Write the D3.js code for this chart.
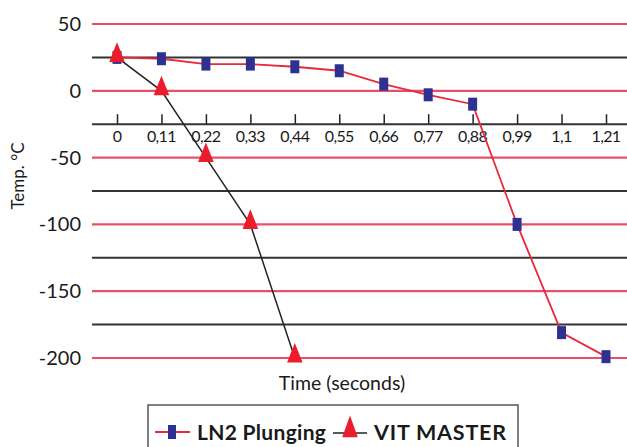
<!DOCTYPE html>
<html>
<head>
<meta charset="utf-8">
<script src="https://d3js.org/d3.v7.min.js"></script>
<style>
  body { margin: 0; background: #fff; }
  text { font-family: Lato, "Open Sans", sans-serif; fill: #1a1a1a; }
</style>
</head>
<body>
<script>
// chart data
const times = [0, 0.11, 0.22, 0.33, 0.44, 0.55, 0.66, 0.77, 0.88, 0.99, 1.1, 1.21];
const timeLabels = ["0", "0,11", "0,22", "0,33", "0,44", "0,55", "0,66", "0,77", "0,88", "0,99", "1,1", "1,21"];
const ln2Plunging = [25, 24, 20, 20, 18, 15, 5, -3, -10, -100, -181, -199];
const vitMaster = [25, 0, -50, -100, -200];
const redGrid = [50, 0, -50, -100, -150, -200];
const blackGrid = [25, -75, -125, -175];
const axisAt = -25;

const W = 627, H = 447;
const svg = d3.select('body').append('svg')
    .attr('width', W)
    .attr('height', H);

const x = d3.scaleLinear().domain([0, 1.21]).range([117, 606]);
const y = d3.scaleLinear().domain([-200, 50]).range([358, 24]);

const left = 92, right = W;

// grid lines
svg.selectAll('.gblack').data(blackGrid).enter().append('line')
    .attr('x1', left).attr('x2', right)
    .attr('y1', d => y(d)).attr('y2', d => y(d))
    .style('stroke', '#333').style('stroke-width', 2);

svg.selectAll('.gred').data(redGrid).enter().append('line')
    .attr('x1', left).attr('x2', right)
    .attr('y1', d => y(d)).attr('y2', d => y(d))
    .style('stroke', '#e6506a').style('stroke-width', 2.2);

// y labels
svg.selectAll('.ylab').data(redGrid).enter().append('text')
    .attr('x', 81)
    .attr('y', d => y(d) + 7)
    .attr('text-anchor', 'end')
    .style('font-size', '20px')
    .text(d => d);

svg.append('text')
    .attr('transform', 'translate(24,176) rotate(-90)')
    .attr('text-anchor', 'middle')
    .style('font-size', '17px')
    .text('Temp. °C');

// x axis at -25 with ticks pointing up
const xAxis = d3.axisTop(x)
    .tickValues(times)
    .tickFormat(() => '')
    .tickSize(10)
    .tickSizeOuter(0);
const gx = svg.append('g')
    .attr('transform', 'translate(0,' + y(axisAt) + ')')
    .call(xAxis);
gx.select('.domain').remove();
gx.selectAll('.tick line').style('stroke', '#222').style('stroke-width', 1.5);

svg.append('line')
    .attr('x1', left).attr('x2', right)
    .attr('y1', y(axisAt)).attr('y2', y(axisAt))
    .style('stroke', '#333').style('stroke-width', 2);

svg.selectAll('.xlab').data(times).enter().append('text')
    .attr('x', d => x(d))
    .attr('y', y(axisAt) + 18)
    .attr('text-anchor', 'middle')
    .style('font-size', '16px')
    .style('letter-spacing', '-0.6px')
    .text((d, i) => timeLabels[i]);

svg.append('text')
    .attr('x', 342)
    .attr('y', 390)
    .attr('text-anchor', 'middle')
    .style('font-size', '19.5px')
    .text('Time (seconds)');

// series lines
const line = d3.line()
    .x((d, i) => x(times[i]))
    .y(d => y(d));

svg.append('path')
    .datum(ln2Plunging)
    .attr('d', line)
    .style('fill', 'none')
    .style('stroke', '#e8283c')
    .style('stroke-width', 1.8);

svg.append('path')
    .datum(vitMaster)
    .attr('d', line)
    .style('fill', 'none')
    .style('stroke', '#222')
    .style('stroke-width', 1.5);

// markers
svg.selectAll('.sq').data(ln2Plunging).enter().append('rect')
    .attr('x', (d, i) => x(times[i]) - 4.5)
    .attr('y', d => y(d) - 6.5)
    .attr('width', 9)
    .attr('height', 13)
    .style('fill', '#2e3192');

const tri = d3.symbol().type(d3.symbolTriangle).size(105);
svg.selectAll('.tri').data(vitMaster).enter().append('path')
    .attr('d', tri)
    .attr('transform', (d, i) => 'translate(' + x(times[i]) + ',' + (y(d) - 2) + ') scale(1,1.45)')
    .style('fill', '#ec1c2c');

// legend
const lg = svg.append('g');
lg.append('rect')
    .attr('x', 148).attr('y', 405)
    .attr('width', 370).attr('height', 50)
    .style('fill', '#fff')
    .style('stroke', '#555')
    .style('stroke-width', 1.5);

lg.append('line')
    .attr('x1', 155).attr('x2', 190).attr('y1', 432).attr('y2', 432)
    .style('stroke', '#e8283c').style('stroke-width', 1.8);
lg.append('rect')
    .attr('x', 168).attr('y', 425).attr('width', 8).attr('height', 14)
    .style('fill', '#2e3192');
lg.append('text')
    .attr('x', 197).attr('y', 440)
    .style('font-size', '21px')
    .style('font-weight', 'bold')
    .style('letter-spacing', '0.3px')
    .text('LN2 Plunging');

lg.append('line')
    .attr('x1', 333).attr('x2', 367).attr('y1', 433).attr('y2', 433)
    .style('stroke', '#222').style('stroke-width', 1.5);
lg.append('path')
    .attr('d', tri)
    .attr('transform', 'translate(350,430) scale(1,1.6)')
    .style('fill', '#ec1c2c');
lg.append('text')
    .attr('x', 374).attr('y', 440)
    .style('font-size', '21.5px')
    .style('font-weight', 'bold')
    .style('letter-spacing', '0.8px')
    .text('VIT MASTER');
</script>
</body>
</html>
